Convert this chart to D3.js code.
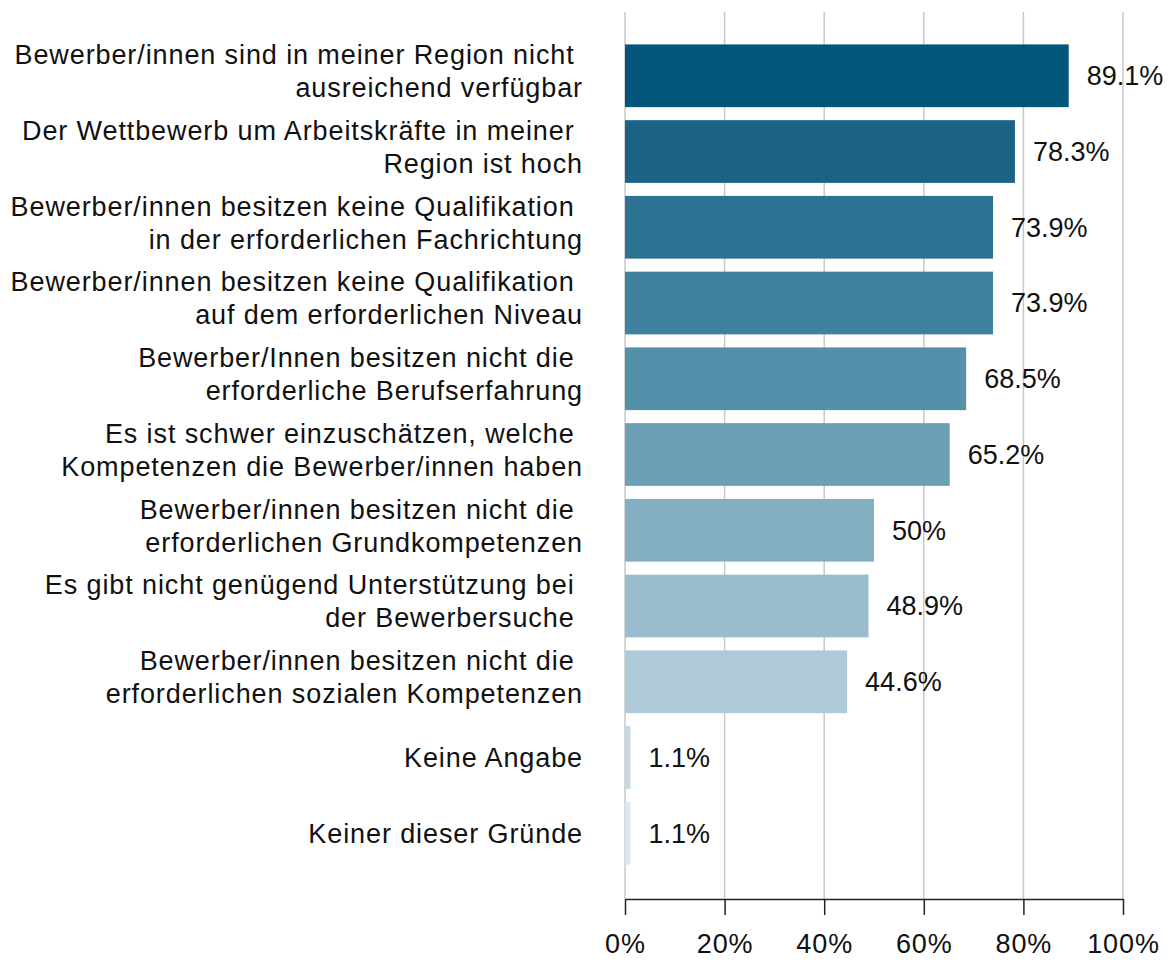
<!DOCTYPE html>
<html>
<head>
<meta charset="utf-8">
<script src="https://cdn.jsdelivr.net/npm/d3@7"></script>
<style>
  body { margin: 0; background: #fff; }
  text { font-family: "Liberation Sans", Arial, sans-serif; fill: #111; }
</style>
</head>
<body>
<div id="chart"></div>
<script>
// reasons, each split in the lines as printed
var labels = [
  ["Bewerber/innen sind in meiner Region nicht ", "ausreichend verfügbar"],
  ["Der Wettbewerb um Arbeitskräfte in meiner ", "Region ist hoch"],
  ["Bewerber/innen besitzen keine Qualifikation ", "in der erforderlichen Fachrichtung"],
  ["Bewerber/innen besitzen keine Qualifikation ", "auf dem erforderlichen Niveau"],
  ["Bewerber/Innen besitzen nicht die ", "erforderliche Berufserfahrung"],
  ["Es ist schwer einzuschätzen, welche ", "Kompetenzen die Bewerber/innen haben"],
  ["Bewerber/innen besitzen nicht die ", "erforderlichen Grundkompetenzen"],
  ["Es gibt nicht genügend Unterstützung bei ", "der Bewerbersuche "],
  ["Bewerber/innen besitzen nicht die ", "erforderlichen sozialen Kompetenzen"],
  ["Keine Angabe"],
  ["Keiner dieser Gründe"]
]
var values = [89.1, 78.3, 73.9, 73.9, 68.5, 65.2, 50, 48.9, 44.6, 1.1, 1.1]
var valueLabels = ["89.1%", "78.3%", "73.9%", "73.9%", "68.5%", "65.2%", "50%", "48.9%", "44.6%", "1.1%", "1.1%"]
var colors = ["#03567a", "#1a6384", "#2d7292", "#40819e", "#5590aa", "#6ba0b6",
              "#84afc2", "#9abdcd", "#aecad8", "#c5d9e4", "#dce8f0"]
var ticks = [0, 20, 40, 60, 80, 100]

var W = 1174, H = 963
var svg = d3.select('#chart').append('svg').attr('width', W).attr('height', H)

var x = d3.scaleLinear().domain([0, 100]).range([625, 1123])
var y = d3.scaleBand().domain(d3.range(values.length)).range([12, 897])
  .paddingInner(0.172).paddingOuter(0.428)

// gridlines
svg.append('g').selectAll('line').data(ticks).join('line')
  .attr('x1', d => x(d)).attr('x2', d => x(d))
  .attr('y1', 12).attr('y2', 899)
  .attr('stroke', '#c8c8c8').attr('stroke-width', 1.5)

// bars
svg.append('g').selectAll('rect').data(values).join('rect')
  .attr('x', x(0))
  .attr('y', (d, i) => y(i))
  .attr('width', d => x(d) - x(0))
  .attr('height', y.bandwidth())
  .attr('fill', (d, i) => colors[i])

// value labels
svg.append('g').selectAll('text').data(values).join('text')
  .attr('x', d => x(d) + 18)
  .attr('y', (d, i) => y(i) + y.bandwidth() / 2)
  .attr('dy', '0.35em')
  .style('font-size', '27px')
  .text((d, i) => valueLabels[i])

// category labels
var cat = svg.append('g').selectAll('text').data(labels).join('text')
  .attr('text-anchor', 'end')
  .style('font-size', '27px')
  .style('letter-spacing', '0.9px')
  .style('white-space', 'pre')
  .attr('y', (d, i) => y(i) + y.bandwidth() / 2)
cat.selectAll('tspan').data(d => d.map((t, j) => ({t: t, j: j, n: d.length}))).join('tspan')
  .attr('x', 583)
  .attr('dy', d => d.j == 0 ? (d.n == 1 ? '0.35em' : '-0.43em') : '1.22em')
  .text(d => d.t)

// x axis
var xAxis = d3.axisBottom(x).tickValues(ticks).tickFormat(d => d + '%').tickSize(16).tickSizeOuter(0)
var ax = svg.append('g').attr('transform', 'translate(0,899)').call(xAxis)
ax.select('.domain').attr('stroke', '#222').attr('stroke-width', 1.5)
ax.selectAll('.tick line').attr('stroke', '#222').attr('stroke-width', 1.5)
ax.selectAll('.tick text')
  .attr('y', 54).attr('dy', 0)
  .style('font-size', '27px')
  .style('letter-spacing', '0.9px')
  .style('font-family', '"Liberation Sans", Arial, sans-serif')
  .attr('fill', '#111')
</script>
</body>
</html>
